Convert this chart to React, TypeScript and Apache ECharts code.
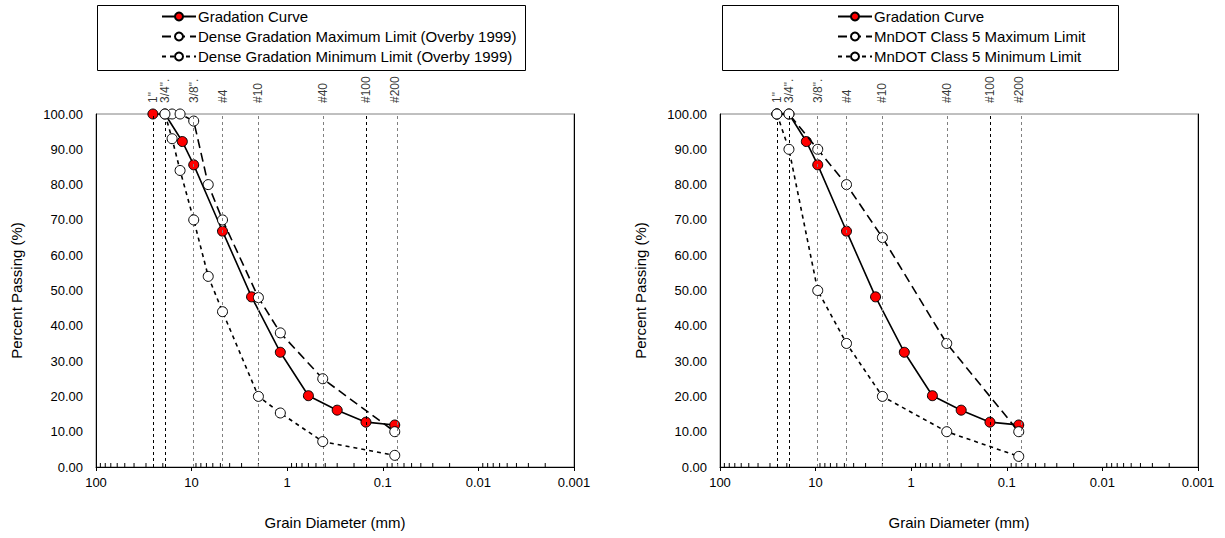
import React, { useEffect, useRef } from "react";
import * as echarts from "echarts";

// ---- Data ----
const SIEVE_LABELS = ['1"', '3/4".', '3/8".', "#4", "#10", "#40", "#100", "#200"];
const SIEVE_MM = [25.4, 19.0, 9.5, 4.75, 2.0, 0.425, 0.15, 0.075];

const GRAD_SIZE = [25.4, 19.0, 12.5, 9.5, 4.75, 2.36, 1.18, 0.6, 0.3, 0.15, 0.075];
const GRAD_PASS = [100, 100, 92.2, 85.6, 66.8, 48.2, 32.5, 20.2, 16.1, 12.7, 11.9];

const OVERBY_MAX_SIZE = [16.0, 13.2, 9.5, 6.7, 4.75, 2.0, 1.18, 0.425, 0.075];
const OVERBY_MAX_PASS = [100, 100, 98, 80, 70, 48, 38, 25, 10];
const OVERBY_MIN_SIZE = [19.0, 16.0, 13.2, 9.5, 6.7, 4.75, 2.0, 1.18, 0.425, 0.075];
const OVERBY_MIN_PASS = [100, 93, 84, 70, 54, 44, 20, 15.3, 7.2, 3.3];

const MNDOT_MAX_SIZE = [25.4, 19.0, 9.5, 4.75, 2.0, 0.425, 0.075];
const MNDOT_MAX_PASS = [100, 100, 90, 80, 65, 35, 10];
const MNDOT_MIN_SIZE = [25.4, 19.0, 9.5, 4.75, 2.0, 0.425, 0.075];
const MNDOT_MIN_PASS = [100, 90, 50, 35, 20, 10, 3];

const GRAD_NAME = "Gradation Curve";
const LEFT_NAMES = [
  GRAD_NAME,
  "Dense Gradation Maximum Limit (Overby 1999)",
  "Dense Gradation Minimum Limit (Overby 1999)",
];
const RIGHT_NAMES = [GRAD_NAME, "MnDOT Class 5 Maximum Limit", "MnDOT Class 5 Minimum Limit"];

const X_TITLE = "Grain Diameter (mm)";
const Y_TITLE = "Percent Passing (%)";

const FONT = "'Liberation Sans', Arial, sans-serif";

const zip = (xs: number[], ys: number[]) => xs.map((x, i) => [x, ys[i]]);

// log-axis minor tick positions (axis decoration)
const MINOR_TICKS: number[] = [];
[10, 1, 0.1, 0.01, 0.001].forEach((dec) => {
  for (let m = 2; m <= 9; m++) MINOR_TICKS.push(+(dec * m).toPrecision(3));
});

const BLACK_SIEVES = new Set(['1"', '3/4".', "#100"]);

function buildPanel(i: number, gridLeft: number, names: string[], maxD: number[][], minD: number[][]) {
  const xAxis = {
    gridIndex: i,
    type: "log",
    logBase: 10,
    min: 0.001,
    max: 100,
    inverse: true,
    name: X_TITLE,
    nameLocation: "middle",
    nameGap: 48,
    nameTextStyle: { fontFamily: FONT, fontSize: 15, color: "#000" },
    axisLine: { show: true, onZero: false, lineStyle: { color: "#000", width: 1 } },
    axisTick: { show: true, inside: false, length: 4, lineStyle: { color: "#000" } },
    axisLabel: {
      fontFamily: FONT,
      fontSize: 13,
      color: "#000",
      margin: 9,
      formatter: (v: number) => String(parseFloat(Number(v).toPrecision(3))),
    },
    splitLine: { show: false },
  };
  const yAxes = [
    {
      gridIndex: i,
      type: "value",
      min: 0,
      max: 100,
      interval: 10,
      name: Y_TITLE,
      nameLocation: "middle",
      nameGap: 72,
      nameTextStyle: { fontFamily: FONT, fontSize: 15, color: "#000" },
      axisLine: { show: true, lineStyle: { color: "#000", width: 1 } },
      axisTick: { show: false },
      axisLabel: {
        fontFamily: FONT,
        fontSize: 13,
        color: "#000",
        margin: 13,
        formatter: (v: number) => v.toFixed(2),
      },
      splitLine: { show: false },
    },
    {
      gridIndex: i,
      type: "value",
      position: "right",
      min: 0,
      max: 100,
      axisLine: { show: true, lineStyle: { color: "#000", width: 1 } },
      axisTick: { show: false },
      axisLabel: { show: false },
      splitLine: { show: false },
    },
  ];
  const yIdx = i * 2;
  const series: any[] = [
    {
      type: "scatter",
      name: "sieves" + i,
      xAxisIndex: i,
      yAxisIndex: yIdx,
      symbolSize: 0,
      silent: true,
      z: 1,
      data: SIEVE_MM.map((d, k) => ({ value: [d, 100], name: SIEVE_LABELS[k] })),
      label: {
        show: true,
        formatter: "{b}",
        position: "top",
        distance: 11,
        rotate: 90,
        align: "left",
        verticalAlign: "middle",
        fontFamily: FONT,
        fontSize: 12,
        color: "#000",
      },
      markLine: {
        silent: true,
        symbol: ["none", "none"],
        label: { show: false },
        animation: false,
        data: SIEVE_MM.map((d, k) => ({
          xAxis: d,
          lineStyle: {
            color: BLACK_SIEVES.has(SIEVE_LABELS[k]) ? "#000" : "#808080",
            type: [3, 3],
            width: 1,
          },
        })),
      },
    },
    {
      type: "custom",
      name: "minor" + i,
      xAxisIndex: i,
      yAxisIndex: yIdx,
      silent: true,
      z: 1,
      data: MINOR_TICKS.map((d) => [d, 0]),
      renderItem: (params: any, api: any) => {
        const p = api.coord([api.value(0), 0]);
        return {
          type: "line",
          shape: { x1: p[0], y1: p[1], x2: p[0], y2: p[1] - 4 },
          style: { stroke: "#000", lineWidth: 1 },
        };
      },
    },
    {
      type: "line",
      name: names[0],
      xAxisIndex: i,
      yAxisIndex: yIdx,
      data: zip(GRAD_SIZE, GRAD_PASS),
      symbol: "circle",
      symbolSize: 10,
      showAllSymbol: true,
      z: 3,
      lineStyle: { color: "#000", width: 1.6 },
      itemStyle: { color: "#ff0000", borderColor: "#000", borderWidth: 1 },
    },
    {
      type: "line",
      name: names[1],
      xAxisIndex: i,
      yAxisIndex: yIdx,
      data: maxD,
      symbol: "circle",
      symbolSize: 10,
      showAllSymbol: true,
      z: 4,
      lineStyle: { color: "#000", width: 1.6, type: [9, 5] },
      itemStyle: { color: "#fff", borderColor: "#000", borderWidth: 1 },
    },
    {
      type: "line",
      name: names[2],
      xAxisIndex: i,
      yAxisIndex: yIdx,
      data: minD,
      symbol: "circle",
      symbolSize: 10,
      showAllSymbol: true,
      z: 5,
      lineStyle: { color: "#000", width: 1.6, type: [4, 4] },
      itemStyle: { color: "#fff", borderColor: "#000", borderWidth: 1 },
    },
  ];
  return {
    grid: {
      left: gridLeft,
      top: 114,
      width: 478,
      height: 353,
      show: true,
      borderColor: "#808080",
      borderWidth: 1,
      backgroundColor: "transparent",
    },
    xAxis,
    yAxes,
    series,
  };
}

export default function App() {
  const ref = useRef<HTMLDivElement>(null);
  useEffect(() => {
    if (!ref.current) return;
    const chart = echarts.init(ref.current, null, { renderer: "svg" });
    const L = buildPanel(0, 96, LEFT_NAMES, zip(OVERBY_MAX_SIZE, OVERBY_MAX_PASS), zip(OVERBY_MIN_SIZE, OVERBY_MIN_PASS));
    const R = buildPanel(1, 720, RIGHT_NAMES, zip(MNDOT_MAX_SIZE, MNDOT_MAX_PASS), zip(MNDOT_MIN_SIZE, MNDOT_MIN_PASS));
    const legendCommon = {
      orient: "vertical",
      top: 9,
      itemWidth: 34,
      itemHeight: 10,
      itemGap: 5,
      padding: 0,
      selectedMode: false,
      textStyle: {
        fontFamily: FONT,
        fontSize: 15,
        lineHeight: 15,
        color: "#000",
        padding: [0, 0, 0, -3],
      },
    };
    chart.setOption({
      animation: false,
      backgroundColor: "#fff",
      grid: [L.grid, R.grid],
      xAxis: [L.xAxis, R.xAxis],
      yAxis: [...L.yAxes, ...R.yAxes],
      legend: [
        { ...legendCommon, left: 161, data: LEFT_NAMES },
        { ...legendCommon, left: 837, data: RIGHT_NAMES },
      ],
      graphic: [
        {
          type: "rect",
          shape: { x: 97.5, y: 5.5, width: 428, height: 65 },
          style: { fill: "none", stroke: "#000", lineWidth: 1 },
          silent: true,
        },
        {
          type: "rect",
          shape: { x: 722.5, y: 5.5, width: 396, height: 65 },
          style: { fill: "none", stroke: "#000", lineWidth: 1 },
          silent: true,
        },
      ],
      series: [...L.series, ...R.series],
    });
    return () => chart.dispose();
  }, []);
  return (
    <div
      ref={ref}
      style={{ position: "fixed", left: 0, top: 0, width: 1225, height: 538, background: "#fff" }}
    />
  );
}
